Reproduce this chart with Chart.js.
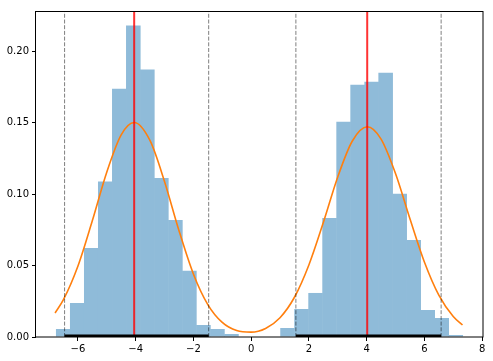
<!DOCTYPE html>
<html><head><meta charset="utf-8">
<script src="https://cdn.jsdelivr.net/npm/chart.js@4/dist/chart.umd.min.js"></script>
<style>html,body{margin:0;padding:0;background:#fff}canvas{display:block}</style>
</head><body>
<canvas id="c" width="493" height="361"></canvas>
<script>
// histogram bins (centers) and density heights
const binCenters = [-6.507,-6.022,-5.536,-5.051,-4.565,-4.080,-3.594,-3.109,-2.623,-2.138,-1.652,-1.167,-0.681,
                    -0.196,0.290,0.775,
                    1.261,1.746,2.232,2.717,3.203,3.688,4.174,4.659,5.145,5.630,6.116,6.601,7.087];
const binDensity = [0.0056,0.0238,0.0623,0.1087,0.1737,0.2178,0.1870,0.1112,0.0819,0.0464,0.0084,0.0056,0.0021,
                    0,0,0,
                    0.0063,0.0196,0.0308,0.0833,0.1506,0.1765,0.1786,0.1849,0.1001,0.0679,0.0189,0.0133,0.0014];
// fitted density curve
const curveX = [-6.79,-6.5,-6,-5.5,-5,-4.5,-4.05,-3.5,-3,-2.5,-2,-1.5,-1,-0.5,0,0.5,1,1.5,2,2.5,3,3.5,4.02,4.5,5,5.5,6,6.5,7,7.32];
const curveY = [0.0168,0.0261,0.0495,0.0813,0.1153,0.1414,0.1500,0.1373,0.1088,0.0745,0.0441,0.0227,0.0102,0.0045,0.0034,
                0.0060,0.0135,0.0278,0.0504,0.0801,0.1119,0.1369,0.1470,0.1384,0.1143,0.0827,0.0525,0.0293,0.0143,0.0084];
// component means and interval bounds
const meanLines = [-4.05, 4.02];
const boundLines = [-6.46, -1.47, 1.55, 6.58];
const intervals = [[-6.46, -1.47], [1.55, 6.58]];
// axes
const xTicks = [-6,-4,-2,0,2,4,6,8];
const yTicks = [0,0.05,0.10,0.15,0.20];
const xRange = [-7.45, 8.03];
const yRange = [0, 0.228];

Chart.defaults.font.family = 'DejaVu Sans';
Chart.defaults.font.size = 10;
Chart.defaults.color = '#000';

const vline = (x, color, width, dash, order) => ({
  type: 'line',
  data: [{x: x, y: yRange[0]}, {x: x, y: yRange[1]}],
  borderColor: color, borderWidth: width, borderDash: dash,
  pointRadius: 0, order: order, clip: 0, tension: 0
});

const datasets = [
  {
    type: 'bar',
    data: binCenters.map((x, i) => ({x: x, y: binDensity[i]})),
    backgroundColor: '#8fbbd9',
    borderWidth: 0,
    barPercentage: 1.0,
    categoryPercentage: 1.04,
    order: 10
  },
  {
    type: 'line',
    data: curveX.map((x, i) => ({x: x, y: curveY[i]})),
    borderColor: '#ff7f0e', borderWidth: 1.6,
    pointRadius: 0, cubicInterpolationMode: 'monotone', order: 5
  }
];
boundLines.forEach(b => datasets.push(vline(b, 'rgba(0,0,0,0.5)', 1, [4, 1.7], 4)));
meanLines.forEach(m => datasets.push(vline(m, 'rgba(255,0,0,0.8)', 2, [], 3)));
intervals.forEach(iv => datasets.push({
  type: 'line',
  data: [{x: iv[0], y: 0}, {x: iv[1], y: 0}],
  borderColor: '#000', borderWidth: 5, pointRadius: 0, clip: 0, order: 2
}));

const frame = {
  id: 'frame',
  afterDatasetsDraw(chart) {
    const a = chart.chartArea, ctx = chart.ctx;
    ctx.save();
    ctx.strokeStyle = '#000';
    ctx.lineWidth = 1;
    ctx.strokeRect(Math.round(a.left) - 0.5, Math.round(a.top) + 0.5,
                   Math.round(a.right - a.left) + 0.5, Math.round(a.bottom - a.top) - 0.5);
    ctx.restore();
  }
};

new Chart(document.getElementById('c'), {
  type: 'bar',
  data: {datasets},
  plugins: [frame],
  options: {
    responsive: false,
    animation: false,
    layout: {padding: {top: 11, right: 10, left: 0, bottom: 0}},
    plugins: {legend: {display: false}, tooltip: {enabled: false}},
    scales: {
      x: {
        type: 'linear', min: xRange[0], max: xRange[1], offset: false,
        grid: {display: true, drawOnChartArea: false, drawTicks: true, tickLength: 4, tickColor: '#000', offset: false},
        border: {display: false},
        afterBuildTicks: s => { s.ticks = xTicks.map(v => ({value: v})); },
        ticks: {padding: 2, autoSkip: false, maxRotation: 0,
                callback: v => (v < 0 ? '\u2212' + Math.abs(v) : String(v))},
        afterFit: s => { s.height = 24; }
      },
      y: {
        type: 'linear', min: yRange[0], max: yRange[1],
        grid: {display: true, drawOnChartArea: false, drawTicks: true, tickLength: 4, tickColor: '#000'},
        border: {display: false},
        afterBuildTicks: s => { s.ticks = yTicks.map(v => ({value: v})); },
        ticks: {padding: 3, callback: v => Number(v).toFixed(2)},
        afterFit: s => { s.width = 36; }
      }
    }
  }
});
</script>
</body></html>
